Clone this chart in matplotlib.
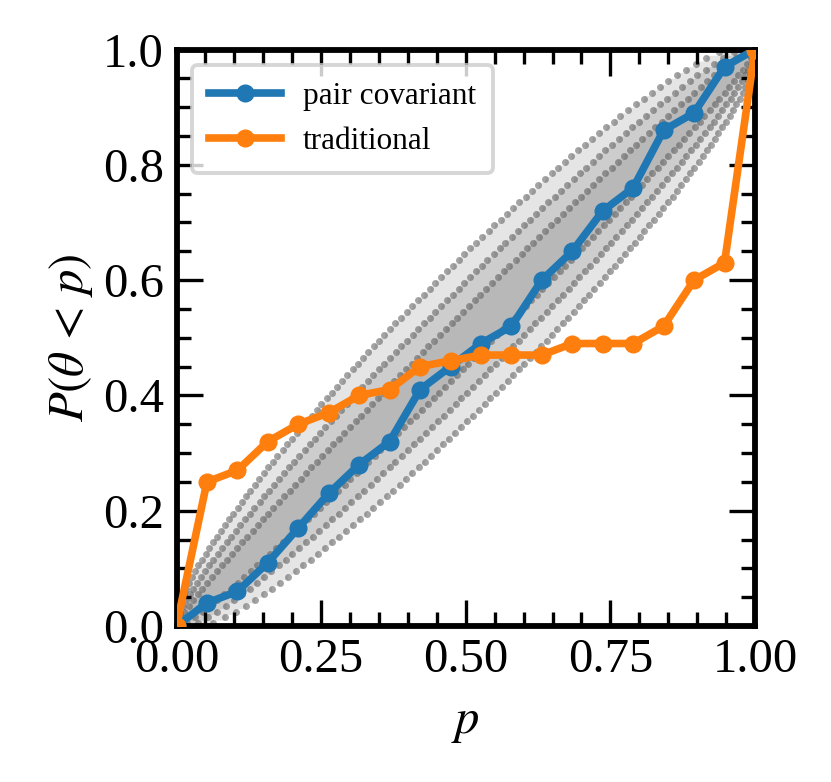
import numpy as np
import matplotlib
matplotlib.use("Agg")
import matplotlib.pyplot as plt
from math import lgamma

# measured coverage at each credible level
p_levels = np.linspace(0, 1, 20)
pair_covariant = [0.00, 0.04, 0.06, 0.11, 0.17, 0.23, 0.28, 0.32, 0.41, 0.45,
                  0.49, 0.52, 0.60, 0.65, 0.72, 0.76, 0.86, 0.89, 0.97, 1.00]
traditional = [0.00, 0.25, 0.27, 0.32, 0.35, 0.37, 0.40, 0.41, 0.45, 0.46,
               0.47, 0.47, 0.47, 0.49, 0.49, 0.49, 0.52, 0.60, 0.63, 1.00]

# number of injections and binomial confidence levels for the grey bands
n_tests = 100
confidence_levels = [0.68, 0.95, 0.997]

plt.rcParams["font.family"] = ["Liberation Serif", "DejaVu Serif"]
plt.rcParams["mathtext.fontset"] = "stix"


def binom_ppf(q, n, x):
    k = np.arange(n + 1)
    logc = np.array([lgamma(n + 1) - lgamma(i + 1) - lgamma(n - i + 1) for i in k])
    xs = np.clip(x, 1e-12, 1 - 1e-12)
    logpmf = logc[None, :] + k[None, :] * np.log(xs)[:, None] + (n - k)[None, :] * np.log1p(-xs)[:, None]
    cdf = np.cumsum(np.exp(logpmf), axis=1)
    return np.argmax(cdf >= q - 1e-10, axis=1).astype(float)


def step_corners(x, b):
    # points in the middle of each riser of a staircase bound
    idx = np.nonzero(np.diff(b))[0]
    return 0.5 * (x[idx] + x[idx + 1]), 0.5 * (b[idx] + b[idx + 1])


fig = plt.figure(figsize=(8.31, 7.82), dpi=100)
ax = fig.add_axes([0.2124, 0.1995, 0.6961, 0.7372])

x_grid = np.linspace(0, 1, 1001)
for ci in confidence_levels:
    edge = (1.0 - ci) / 2.0
    lower = binom_ppf(1 - edge, n_tests, x_grid) / n_tests
    upper = binom_ppf(edge, n_tests, x_grid) / n_tests
    lower[0] = 0
    upper[0] = 0
    ax.fill_between(x_grid, lower, upper, color="k", alpha=0.1, lw=0, zorder=1)
    for b in (lower, upper):
        cx, cy = step_corners(x_grid, b)
        ax.plot(cx, cy, ls="none", marker="o", ms=5, mew=0, color="0.35", alpha=0.55, zorder=1.5)

ax.plot(p_levels, pair_covariant, "-o", color="#1f77b4", lw=5.5, ms=12, label="pair covariant", zorder=3)
ax.plot(p_levels, traditional, "-o", color="#ff7f0e", lw=5.5, ms=12, label="traditional", zorder=3)

ax.set_xlim(0, 1)
ax.set_ylim(0, 1)
ax.set_xticks([0, 0.25, 0.5, 0.75, 1.0])
ax.set_xticklabels(["0.00", "0.25", "0.50", "0.75", "1.00"])
ax.set_yticks([0, 0.2, 0.4, 0.6, 0.8, 1.0])
ax.set_yticklabels(["0.0", "0.2", "0.4", "0.6", "0.8", "1.0"])
ax.set_xticks(np.arange(0, 1.0001, 0.05), minor=True)
ax.set_yticks(np.arange(0, 1.0001, 0.05), minor=True)
ax.tick_params(which="both", direction="in", top=True, right=True, width=2.4, labelsize=35)
ax.tick_params(which="major", length=19, pad=9)
ax.tick_params(which="minor", length=10)
for s in ax.spines.values():
    s.set_linewidth(4.2)

ax.set_xlabel(r"$p$", fontsize=35, labelpad=13)
ax.set_ylabel(r"$P(\theta\,<\,p)$", fontsize=35, labelpad=6)

leg = ax.legend(loc="upper left", fontsize=22.5, numpoints=1, handlelength=2.3, handletextpad=0.7,
                framealpha=0.8, borderaxespad=0.5, borderpad=0.55)
leg.get_frame().set_linewidth(2.8)

fig.savefig("out.png", dpi=100)
